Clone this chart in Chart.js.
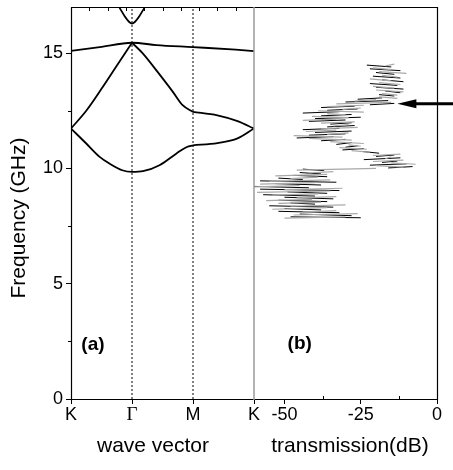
<!DOCTYPE html>
<html><head><meta charset="utf-8">
<script src="https://cdn.jsdelivr.net/npm/chart.js@4.4.1/dist/chart.umd.min.js"></script>
<style>
html,body{margin:0;padding:0;background:#fff;}
#wrap{position:relative;width:453px;height:470px;background:#fff;}
canvas{position:absolute;left:0;top:0;}
</style></head><body>
<div id="wrap"><canvas id="ca" width="453" height="470"></canvas><canvas id="cb" width="453" height="470"></canvas></div>
<script>
// ---- axis ticks / labels ----
const kTickValues = [0, 1, 2, 3];
const kTickLabels = ['K', 'Γ', 'M', 'K'];
const kTopMinorTicks = [0.3, 0.6, 0.9, 1.2, 1.5, 1.8, 2.1, 2.4, 2.7];
const freqTicks = [0, 5, 10, 15];
const freqMinorTicks = [2.5, 7.5, 12.5];
const dbTicks = [-50, -25, 0];
const dbMinorTicks = [-37.5, -12.5];
const symmetryLines = [1, 2];   // Γ and M

// ---- band structure (k index, frequency GHz) ----
const lowBandKGM = [[0,11.73],[0.25,11.08],[0.47,10.5],[0.63,10.21],[0.84,9.92],[1,9.85],[1.18,9.88],[1.45,10.14],[1.73,10.65],[1.9,10.93],[2,11.0]];
const lowBandMK = [[2,11.0],[2.4,11.1],[2.73,11.3],[3,11.73]];
const midBandKG = [[0,11.73],[0.25,12.5],[0.5,13.45],[0.75,14.45],[1,15.45]];
const midBandGM = [[1,15.45],[1.18,14.98],[1.4,14.25],[1.67,13.32],[1.83,12.74],[2,12.45]];
const midBandMK = [[2,12.45],[2.4,12.3],[2.73,12.05],[3,11.73]];
const upBand = [[0,15.1],[0.47,15.26],[1,15.45],[1.4,15.35],[2,15.26],[2.7,15.15],[3,15.09]];
const topBand = [[0.72,17.3],[0.8,16.95],[0.88,16.6],[0.95,16.36],[1,16.28],[1.05,16.36],[1.12,16.6],[1.2,16.95],[1.28,17.3]];

// ---- transmission spectrum (frequency GHz, transmission dB) ----
const transBlack = [[7.86,-25],[7.9,-48],[7.95,-28],[8.02,-45],[8.08,-32],[8.14,-52],[8.2,-38],[8.26,-50],[8.32,-34],[8.38,-55],[8.45,-40],[8.5,-48],[8.56,-36],[8.62,-52],[8.68,-34],[8.75,-50],[8.8,-40],[8.86,-57],[8.92,-36],[8.98,-49],[9.04,-32],[9.1,-58],[9.16,-42],[9.22,-60],[9.28,-38],[9.34,-53],[9.4,-33],[9.46,-58],[9.52,-44],[9.58,-52],[9.64,-36],[9.7,-47],[9.76,-38],[9.82,-45],[9.9,-37],[9.97,-44],[10.02,-16],[10.08,-8],[10.14,-22],[10.2,-10],[10.26,-18],[10.32,-13],[10.38,-24],[10.46,-12],[10.52,-20],[10.58,-14],[10.66,-19],[10.74,-25],[10.8,-31],[10.86,-24],[10.92,-30],[10.98,-26],[11.04,-33],[11.12,-28],[11.2,-38],[11.26,-30],[11.32,-46],[11.38,-34],[11.44,-42],[11.5,-30],[11.56,-40],[11.62,-28],[11.68,-44],[11.74,-32],[11.8,-36],[11.86,-27],[11.92,-35],[11.98,-28],[12.04,-42],[12.1,-30],[12.16,-40],[12.22,-25],[12.28,-38],[12.34,-28],[12.4,-44],[12.46,-32],[12.52,-36],[12.58,-26],[12.64,-38],[12.7,-27],[12.76,-22],[12.82,-14],[12.88,-30],[12.94,-16],[13.0,-26],[13.06,-18],[13.14,-14],[13.2,-19],[13.28,-12],[13.36,-17],[13.44,-11],[13.52,-20],[13.6,-13],[13.68,-22],[13.76,-11],[13.84,-18],[13.92,-12],[14.0,-21],[14.08,-14],[14.16,-20],[14.24,-12],[14.32,-22],[14.4,-15],[14.48,-23],[14.56,-16]];
const transGray = [[7.84,-50],[7.9,-30],[7.98,-47],[8.04,-26],[8.1,-44],[8.17,-33],[8.23,-54],[8.3,-36],[8.36,-48],[8.42,-30],[8.48,-52],[8.54,-38],[8.6,-56],[8.66,-41],[8.72,-46],[8.78,-33],[8.84,-54],[8.9,-39],[8.96,-59],[9.02,-35],[9.08,-50],[9.14,-31],[9.2,-60],[9.26,-45],[9.32,-58],[9.38,-40],[9.44,-55],[9.5,-35],[9.56,-48],[9.62,-39],[9.68,-53],[9.74,-36],[9.8,-42],[9.86,-34],[9.93,-46],[10.0,-20],[10.06,-11],[10.12,-20],[10.18,-7],[10.24,-15],[10.3,-21],[10.36,-11],[10.42,-17],[10.5,-15],[10.56,-21],[10.62,-12],[10.7,-22],[10.77,-28],[10.83,-23],[10.9,-32],[10.96,-25],[11.02,-29],[11.08,-24],[11.16,-35],[11.23,-28],[11.3,-42],[11.36,-31],[11.42,-47],[11.48,-36],[11.54,-29],[11.6,-43],[11.66,-33],[11.72,-38],[11.78,-26],[11.84,-34],[11.9,-29],[11.96,-38],[12.02,-27],[12.08,-44],[12.14,-33],[12.2,-29],[12.26,-41],[12.32,-30],[12.38,-36],[12.44,-24],[12.5,-39],[12.56,-31],[12.62,-25],[12.68,-36],[12.74,-24],[12.8,-33],[12.86,-15],[12.92,-27],[12.98,-20],[13.04,-13],[13.1,-19],[13.18,-13],[13.24,-18],[13.32,-11],[13.4,-20],[13.48,-14],[13.56,-21],[13.64,-12],[13.72,-19],[13.8,-15],[13.88,-22],[13.96,-13],[14.04,-18],[14.12,-10],[14.2,-19],[14.28,-15],[14.36,-21],[14.44,-17],[14.52,-14],[14.6,-19]];

// arrow marker (frequency GHz, transmission dB at tip)
const arrowFreq = 12.8;
const arrowDb = -13;

const FONT = "'Liberation Sans', Arial, Helvetica, sans-serif";
const SERIF = "'Liberation Serif', 'Times New Roman', serif";

function fixBox(size, horizontal) {
  return s => {
    if (horizontal) s.height = size; else s.width = size;
    s.paddingTop = 0; s.paddingBottom = 0; s.paddingLeft = 0; s.paddingRight = 0;
  };
}
function pts(arr) { return arr.map(p => ({x: p[0], y: p[1]})); }
function band(arr) {
  return { data: pts(arr), showLine: true, borderColor: '#000', borderWidth: 1.8,
    pointRadius: 0, cubicInterpolationMode: 'monotone', fill: false };
}

// ---------- panel (a) ----------
const panelA = {
  id: 'panelA',
  afterDraw(chart) {
    const c = chart.ctx, a = chart.chartArea, xs = chart.scales.x, ys = chart.scales.y;
    c.save();
    c.strokeStyle = '#000'; c.lineWidth = 1.2;
    c.beginPath();
    c.moveTo(a.right, a.top + 0.5); c.lineTo(a.left + 0.5, a.top + 0.5);
    c.lineTo(a.left + 0.5, a.bottom + 0.5); c.lineTo(a.right, a.bottom + 0.5);
    c.stroke();
    c.lineWidth = 1;
    c.beginPath();
    freqMinorTicks.forEach(v => { const y = Math.round(ys.getPixelForValue(v)) + 0.5; c.moveTo(a.left - 3, y); c.lineTo(a.left, y); });
    kTopMinorTicks.forEach(v => { const x = Math.round(xs.getPixelForValue(v)) + 0.5; c.moveTo(x, a.top); c.lineTo(x, a.top + 4); });
    c.stroke();
    c.fillStyle = '#000';
    c.font = '21px ' + FONT;
    c.textAlign = 'center'; c.textBaseline = 'middle';
    c.fillText('wave vector', 153, 446);
    c.save();
    c.translate(19, 218); c.rotate(-Math.PI / 2);
    c.fillText('Frequency (GHz)', 0, 0);
    c.restore();
    c.font = 'bold 19px ' + FONT;
    c.fillText('(a)', xs.getPixelForValue(0.36), ys.getPixelForValue(2.35));
    c.restore();
  }
};

const dsA = [];
symmetryLines.forEach(k => dsA.push({ data: [{x: k, y: 0}, {x: k, y: 17}], showLine: true,
  borderColor: '#000', borderWidth: 1, borderDash: [2, 2], pointRadius: 0 }));
[lowBandKGM, lowBandMK, midBandKG, midBandGM, midBandMK, upBand, topBand].forEach(b => dsA.push(band(b)));

new Chart(document.getElementById('ca'), {
  type: 'scatter',
  data: { datasets: dsA },
  options: {
    responsive: false, animation: false, devicePixelRatio: 1,
    layout: { padding: { top: 7, right: 199, left: 0, bottom: 0 } },
    plugins: { legend: { display: false }, tooltip: { enabled: false } },
    scales: {
      x: {
        type: 'linear', min: 0, max: 3,
        afterFit: fixBox(71, true),
        afterBuildTicks: s => { s.ticks = kTickValues.map(v => ({ value: v })); },
        ticks: {
          autoSkip: false, maxRotation: 0, padding: 0, color: '#000',
          callback: (v, i) => kTickLabels[i],
          font: ctx => (ctx.tick && ctx.tick.value === 1) ? { family: SERIF, size: 19 } : { family: FONT, size: 18 }
        },
        grid: { drawOnChartArea: false, tickLength: 5, color: '#000', tickWidth: 1 },
        border: { display: false }
      },
      y: {
        type: 'linear', min: 0, max: 17,
        afterFit: fixBox(71, false),
        afterBuildTicks: s => { s.ticks = freqTicks.map(v => ({ value: v })); },
        ticks: { autoSkip: false, padding: 3, color: '#000', font: { family: FONT, size: 18 } },
        grid: { drawOnChartArea: false, tickLength: 5, color: '#000', tickWidth: 1 },
        border: { display: false }
      }
    }
  },
  plugins: [panelA]
});

// ---------- panel (b) ----------
const panelB = {
  id: 'panelB',
  afterDraw(chart) {
    const c = chart.ctx, a = chart.chartArea, xs = chart.scales.x, ys = chart.scales.y;
    c.save();
    c.strokeStyle = '#000'; c.lineWidth = 1.2;
    c.beginPath();
    c.moveTo(a.left, a.top + 0.5); c.lineTo(a.right + 0.5, a.top + 0.5);
    c.lineTo(a.right + 0.5, a.bottom + 0.5); c.lineTo(a.left, a.bottom + 0.5);
    c.stroke();
    c.strokeStyle = '#9a9a9a'; c.lineWidth = 1.5;
    c.beginPath(); c.moveTo(a.left, a.top); c.lineTo(a.left, a.bottom + 1); c.stroke();
    c.strokeStyle = '#000'; c.lineWidth = 1;
    c.beginPath();
    dbMinorTicks.forEach(v => { const x = Math.round(xs.getPixelForValue(v)) + 0.5; c.moveTo(x, a.bottom); c.lineTo(x, a.bottom - 3); });
    c.stroke();
    // arrow
    const tx = xs.getPixelForValue(arrowDb), ty = ys.getPixelForValue(arrowFreq);
    c.fillStyle = '#000';
    c.lineWidth = 3;
    c.beginPath(); c.moveTo(tx + 15, ty); c.lineTo(chart.width, ty); c.stroke();
    c.beginPath(); c.moveTo(tx, ty); c.lineTo(tx + 19, ty - 4.5); c.lineTo(tx + 19, ty + 4.5); c.closePath(); c.fill();
    // texts
    c.font = '21px ' + FONT;
    c.textAlign = 'center'; c.textBaseline = 'middle';
    c.fillText('transmission(dB)', 350, 446);
    c.font = 'bold 19px ' + FONT;
    c.fillText('(b)', xs.getPixelForValue(-45), ys.getPixelForValue(2.4));
    c.restore();
  }
};

// each swing of the trace is drawn as a separate horizontal stroke (return swing hidden)
function strokes(color) {
  return { borderColor: ctx => (ctx.p0DataIndex % 2 === 0 ? color : 'rgba(0,0,0,0)') };
}

new Chart(document.getElementById('cb'), {
  type: 'scatter',
  data: { datasets: [
    { data: transGray.map(p => ({x: p[1], y: p[0]})), showLine: true, borderColor: '#a8a8a8', borderWidth: 1.2, pointRadius: 0, tension: 0, segment: strokes('#a8a8a8') },
    { data: transBlack.map(p => ({x: p[1], y: p[0]})), showLine: true, borderColor: '#000', borderWidth: 1, pointRadius: 0, tension: 0, segment: strokes('#000') }
  ] },
  options: {
    responsive: false, animation: false, devicePixelRatio: 1,
    layout: { padding: { top: 7, right: 16, left: 254, bottom: 0 } },
    plugins: { legend: { display: false }, tooltip: { enabled: false } },
    scales: {
      x: {
        type: 'linear', min: -60, max: 0,
        afterFit: fixBox(71, true),
        afterBuildTicks: s => { s.ticks = dbTicks.map(v => ({ value: v })); },
        ticks: { autoSkip: false, maxRotation: 0, padding: 0, color: '#000', font: { family: FONT, size: 18 } },
        grid: { drawOnChartArea: false, tickLength: 5, color: '#000', tickWidth: 1 },
        border: { display: false }
      },
      y: { type: 'linear', min: 0, max: 17, display: false }
    }
  },
  plugins: [panelB]
});
</script>
</body></html>
